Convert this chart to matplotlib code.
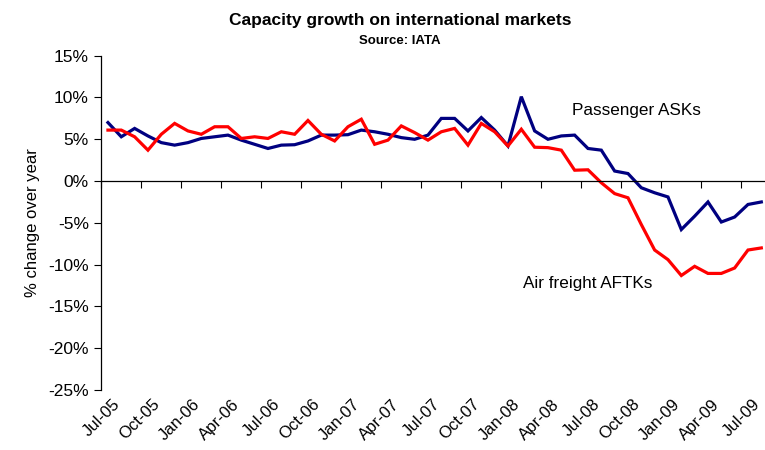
import matplotlib
matplotlib.use('Agg')
import matplotlib.pyplot as plt
import matplotlib.transforms as mtransforms

plt.rcParams['font.family'] = ['Liberation Sans', 'DejaVu Sans']

# monthly, Jul-05 .. Aug-09
passenger = [7.0, 5.3, 6.3, 5.4, 4.6, 4.3, 4.6, 5.1, 5.3, 5.5,
             4.9, 4.4, 3.9, 4.3, 4.35, 4.8, 5.5, 5.5, 5.55, 6.1,
             5.9, 5.6, 5.2, 5.0, 5.5, 7.5, 7.5, 6.0, 7.6, 6.1,
             4.2, 10.1, 6.0, 5.0, 5.4, 5.5, 3.9, 3.7, 1.2, 0.9,
             -0.8, -1.4, -1.9, -5.8, -4.2, -2.5, -4.9, -4.3, -2.8, -2.5]
freight = [6.1, 6.1, 5.3, 3.7, 5.6, 6.9, 6.0, 5.6, 6.5, 6.5,
           5.1, 5.3, 5.1, 5.9, 5.6, 7.25, 5.6, 4.8, 6.5, 7.4,
           4.4, 4.9, 6.6, 5.8, 4.9, 5.9, 6.3, 4.3, 6.9, 5.9,
           4.2, 6.2, 4.05, 4.0, 3.7, 1.3, 1.35, -0.2, -1.5, -2.0,
           -5.2, -8.25, -9.4, -11.3, -10.2, -11.05, -11.05, -10.4, -8.25, -8.0]
tick_labels = ['Jul-05', 'Oct-05', 'Jan-06', 'Apr-06', 'Jul-06', 'Oct-06',
               'Jan-07', 'Apr-07', 'Jul-07', 'Oct-07', 'Jan-08', 'Apr-08',
               'Jul-08', 'Oct-08', 'Jan-09', 'Apr-09', 'Jul-09']
yticks = [15, 10, 5, 0, -5, -10, -15, -20, -25]

fig = plt.figure(figsize=(7.65, 4.5), dpi=100)
ax = fig.add_axes([0.1324, 0.1333, 0.8715, 0.7429])

x = list(range(len(passenger)))
ax.plot(x, passenger, color='#000080', lw=2.3, solid_joinstyle='miter')
ax.plot(x, freight, color='#ff0000', lw=2.3, solid_joinstyle='miter')

ax.set_xlim(-0.5, len(passenger) - 0.5)
ax.set_ylim(-25, 15)
ax.set_yticks(yticks)
ax.set_yticklabels([f'{v}%' for v in yticks], fontsize=12.5)
ax.tick_params(axis='y', direction='out', length=5, width=0.8, pad=4)

ax.spines['top'].set_visible(False)
ax.spines['right'].set_visible(False)
ax.spines['bottom'].set_position(('data', 0))
ax.spines['left'].set_linewidth(0.9)
ax.spines['bottom'].set_linewidth(0.9)

ax.set_xticks([i * 3 - 0.5 for i in range(len(tick_labels))])
ax.set_xticklabels([])
ax.tick_params(axis='x', direction='out', length=5, width=0.8)

trans = mtransforms.blended_transform_factory(ax.transData, ax.transAxes)
for i, lab in enumerate(tick_labels):
    ax.text(i * 3 + 0.3, -0.02, lab, transform=trans, rotation=45,
            ha='right', va='top', fontsize=12, rotation_mode='anchor')

ax.set_ylabel('% change over year', fontsize=12, labelpad=6)

ax.text(34.8, 8.5, 'Passenger ASKs', fontsize=12.3, va='center')
ax.text(31.1, -12.3, 'Air freight AFTKs', fontsize=12.3, va='center')

fig.text(0.523, 0.955, 'Capacity growth on international markets',
         ha='center', va='center', fontsize=12.5, fontweight='bold')
fig.text(0.523, 0.91, 'Source: IATA', ha='center', va='center',
         fontsize=9.5, fontweight='bold')

fig.savefig('out.png', dpi=100)
